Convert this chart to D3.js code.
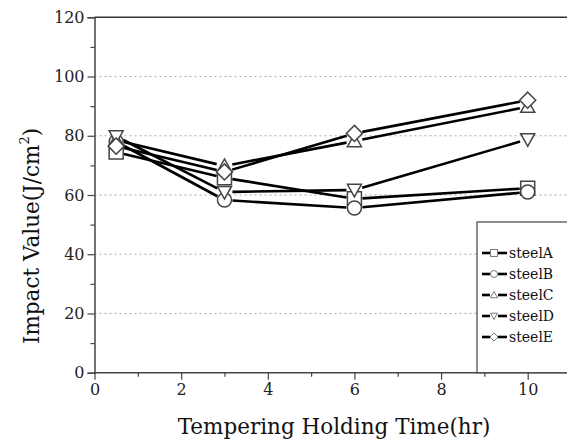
<!DOCTYPE html>
<html><head><meta charset="utf-8">
<script src="https://cdn.jsdelivr.net/npm/d3@7"></script>
<style>body{margin:0;background:#fff}svg{display:block}
svg text{font-family:"DejaVu Serif",serif !important;}</style>
</head><body><svg id="c" width="567" height="447"></svg>
<script>
const times = [0.5, 3, 6, 10];
const seriesNames = ["steelA","steelB","steelC","steelD","steelE"];
const steelA = [74.5, 65.8, 58.7, 62.3];
const steelB = [78, 58.3, 55.6, 61];
const steelC = [78.5, 69.8, 78.2, 89.8];
const steelD = [79.8, 61, 61.7, 78.8];
const steelE = [76.5, 67.8, 80.8, 92];
const yTicks = [0,20,40,60,80,100,120];
const xTicks = [0,2,4,6,8,10];
const symbols = ["square","circle","triangleUp","triangleDown","diamond"];
const allSeries = [steelA, steelB, steelC, steelD, steelE];

const svg = d3.select("#c");
const x = d3.scaleLinear().domain([0,10]).range([94.5,527.7]);
const y = d3.scaleLinear().domain([0,120]).range([372.7,17.3]);
const right = 567;

svg.append("g").selectAll("line").data([20,40,60,80,100]).join("line")
  .attr("x1", x(0)).attr("x2", right).attr("y1", d=>y(d)).attr("y2", d=>y(d))
  .attr("stroke","#aaa").attr("stroke-width",1).attr("stroke-dasharray","2,3");

svg.append("line").attr("x1",x(0)).attr("x2",right).attr("y1",y(120)).attr("y2",y(120))
  .attr("stroke","#333").attr("stroke-width",1.5);

const yAxis = d3.axisLeft(y).tickValues(yTicks).tickSize(7).tickPadding(3);
const gy = svg.append("g").attr("transform",`translate(${x(0)},0)`).call(yAxis);
gy.selectAll("text").attr("font-size",16).attr("fill","#222");
gy.select(".domain").attr("stroke","#444").attr("stroke-width",1.5);
gy.selectAll(".tick line").attr("stroke","#444").attr("stroke-width",1.2);
svg.append("g").attr("transform",`translate(${x(0)},0)`)
  .call(d3.axisLeft(y).tickValues([10,30,50,70,90,110]).tickSize(4).tickFormat(""))
  .call(g=>{g.select(".domain").remove();g.selectAll("line").attr("stroke","#444").attr("stroke-width",1.2);});

const xAxis = d3.axisBottom(x).tickValues(xTicks).tickSize(7).tickPadding(4);
const gx = svg.append("g").attr("transform",`translate(0,${y(0)})`).call(xAxis);
gx.selectAll("text").attr("font-size",16).attr("fill","#222");
gx.select(".domain").attr("d",`M${x(0)},0H${right}`).attr("stroke","#444").attr("stroke-width",1.5);
gx.selectAll(".tick line").attr("stroke","#444").attr("stroke-width",1.2);
svg.append("g").attr("transform",`translate(0,${y(0)})`)
  .call(d3.axisBottom(x).tickValues([1,3,5,7,9,11]).tickSize(4).tickFormat(""))
  .call(g=>{g.select(".domain").remove();g.selectAll("line").attr("stroke","#444").attr("stroke-width",1.2);});

svg.append("text").attr("x",334).attr("y",434).attr("text-anchor","middle")
  .attr("font-size",21.5).attr("fill","#111").text("Tempering Holding Time(hr)");
const yt = svg.append("text").attr("transform","translate(39,236) rotate(-90)").attr("text-anchor","middle")
  .attr("font-size",21.5).attr("fill","#111");
yt.append("tspan").text("Impact Value(J/cm");
yt.append("tspan").attr("font-size",13).attr("dy",-10).text("2");
yt.append("tspan").attr("dy",10).text(")");

function sym(type, s){
  const h=s/2;
  switch(type){
    case "square": return `M${-h},${-h}H${h}V${h}H${-h}Z`;
    case "circle": return `M${h},0A${h},${h} 0 1,1 ${-h},0A${h},${h} 0 1,1 ${h},0Z`;
    case "triangleUp": return `M0,${-h}L${h},${h*0.8}L${-h},${h*0.8}Z`;
    case "triangleDown": return `M0,${h}L${h},${-h*0.8}L${-h},${-h*0.8}Z`;
    case "diamond": return `M0,${-h*1.15}L${h*1.15},0L0,${h*1.15}L${-h*1.15},0Z`;
  }
}

const gap = 8;
allSeries.forEach((vals,i)=>{
  for(let k=0;k<times.length-1;k++){
    const x1=x(times[k]), y1=y(vals[k]), x2=x(times[k+1]), y2=y(vals[k+1]);
    const dx=x2-x1, dy=y2-y1, L=Math.hypot(dx,dy);
    svg.append("line")
      .attr("x1",x1+dx/L*gap).attr("y1",y1+dy/L*gap)
      .attr("x2",x2-dx/L*gap).attr("y2",y2-dy/L*gap)
      .attr("stroke","#000").attr("stroke-width",2.6);
  }
});
allSeries.forEach((vals,i)=>{
  svg.append("g").selectAll("path").data(vals).join("path")
    .attr("transform",(d,k)=>`translate(${x(times[k])},${y(d)})`)
    .attr("d",sym(symbols[i],14))
    .attr("fill","#fff").attr("stroke","#444").attr("stroke-width",1.5);
});

const lg = svg.append("g");
lg.append("rect").attr("x",477).attr("y",222).attr("width",100).attr("height",y(0)-222)
  .attr("fill","#fff").attr("stroke","#444").attr("stroke-width",1.2);
seriesNames.forEach((n,i)=>{
  const yy=253+i*21;
  lg.append("line").attr("x1",482).attr("x2",490).attr("y1",yy).attr("y2",yy).attr("stroke","#000").attr("stroke-width",2.6);
  lg.append("line").attr("x1",498).attr("x2",507).attr("y1",yy).attr("y2",yy).attr("stroke","#000").attr("stroke-width",2.6);
  lg.append("path").attr("transform",`translate(494,${yy})`).attr("d",sym(symbols[i],7))
    .attr("fill","#fff").attr("stroke","#777").attr("stroke-width",1);
  lg.append("text").attr("x",509).attr("y",yy+5).attr("font-size",14)
    .attr("fill","#111").text(n);
});
</script></body></html>
